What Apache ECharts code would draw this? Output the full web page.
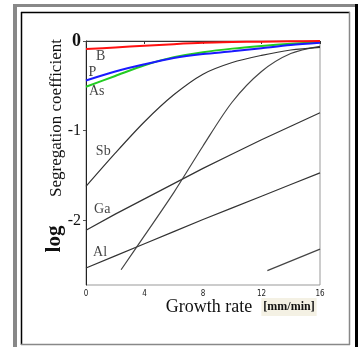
<!DOCTYPE html>
<html>
<head>
<meta charset="utf-8">
<script src="https://cdn.jsdelivr.net/npm/echarts@6/dist/echarts.min.js"></script>
<style>
  html, body {margin: 0; padding: 0; background: #fff;}
  #chart {width: 364px; height: 347px;}
</style>
</head>
<body>
<div id="chart"></div>
<script>
// growth rate [mm/min] and log segregation coefficient
const growthRate = [0, 2, 4, 6, 8, 10, 12, 14, 16];
const boronB = [-0.09, -0.072, -0.053, -0.035, -0.02, -0.012, -0.007, -0.003, 0];
const phosphorusP = [-0.44, -0.34, -0.26, -0.19, -0.145, -0.115, -0.08, -0.045, -0.02];
const arsenicAs = [-0.51, -0.39, -0.27, -0.18, -0.125, -0.085, -0.055, -0.03, -0.01];
const antimonySb = [-1.62, -1.25, -0.9, -0.6, -0.37, -0.24, -0.16, -0.1, -0.07];
const galliumGa = [-2.11, -1.93, -1.76, -1.59, -1.42, -1.26, -1.1, -0.95, -0.8];
const aluminiumAl = [-2.53, -2.395, -2.26, -2.125, -1.99, -1.86, -1.73, -1.6, -1.47];
// unlabeled steep curve and the short line bottom right
const steepX = [2.4, 4, 6, 8, 10, 12, 14, 16];
const steepY = [-2.55, -2.17, -1.69, -1.17, -0.68, -0.34, -0.14, -0.06];
const shortX = [12.4, 16];
const shortY = [-2.56, -2.32];

const xTicks = [0, 4, 8, 12, 16];
const yTicks = [0, -1, -2];

// curve labels: text and anchor point in data units
const labelNames = ['B', 'P', 'As', 'Sb', 'Ga', 'Al'];
const labelX = [1.01, 0.43, 0.73, 1.18, 1.11, 0.96];
const labelY = [-0.17, -0.35, -0.56, -1.23, -1.88, -2.36];

const pairs = (xs, ys) => xs.map((x, i) => [x, ys[i]]);
const serif = '"Liberation Serif", "DejaVu Serif", serif';

const myChart = echarts.init(document.getElementById('chart'));

const curve = (name, xs, ys, color, width, smooth) => ({
    name: name,
    type: 'line',
    data: pairs(xs, ys),
    showSymbol: false,
    smooth: smooth,
    lineStyle: {color: color, width: width},
    silent: true,
    z: 3
});

myChart.setOption({
    animation: false,
    grid: {left: 86, top: 41, right: 44, bottom: 62, show: true, borderColor: '#999', borderWidth: 1},
    xAxis: {
        type: 'value',
        min: 0,
        max: 16,
        interval: 4,
        splitLine: {show: false},
        axisLine: {lineStyle: {color: '#333', width: 1}},
        axisTick: {length: 3, lineStyle: {color: '#333'}, customValues: xTicks},
        axisLabel: {
            customValues: xTicks,
            margin: 5,
            fontSize: 8,
            color: '#222',
            fontFamily: '"Liberation Sans Narrow", "DejaVu Sans Condensed", sans-serif'
        }
    },
    yAxis: {
        type: 'value',
        min: -2.72,
        max: 0,
        splitLine: {show: false},
        axisLine: {lineStyle: {color: '#222', width: 1}},
        axisTick: {length: 3, lineStyle: {color: '#555'}, customValues: yTicks},
        axisLabel: {
            customValues: yTicks,
            margin: 5,
            color: '#111',
            fontFamily: serif,
            fontSize: 16,
            formatter(val) {
                return val === 0 ? '{z|0}' : String(val);
            },
            rich: {z: {fontSize: 18, fontWeight: 'bold', fontFamily: serif, color: '#111'}}
        }
    },
    series: [
        curve('Al', growthRate, aluminiumAl, '#333', 1.2, false),
        curve('Ga', growthRate, galliumGa, '#333', 1.2, false),
        curve('steep', steepX, steepY, '#444', 1.2, 0.3),
        curve('short', shortX, shortY, '#444', 1.2, false),
        curve('Sb', growthRate, antimonySb, '#333', 1.2, 0.3),
        curve('As', growthRate, arsenicAs, '#22cc22', 2, 0.3),
        curve('P', growthRate, phosphorusP, '#1a1aff', 2, 0.3),
        curve('B', growthRate, boronB, '#ff1010', 2, 0.3),
        {
            name: 'labels',
            type: 'scatter',
            symbolSize: 0,
            silent: true,
            data: labelNames.map((n, i) => ({value: [labelX[i], labelY[i]], name: n})),
            label: {
                show: true,
                position: 'inside',
                formatter: p => p.name,
                fontFamily: serif,
                fontSize: 14,
                color: '#111'
            }
        }
    ],
    graphic: [
        // decorative outer frame
        {type: 'rect', shape: {x: 13, y: 4, width: 4, height: 343}, style: {fill: '#888'}},
        {type: 'rect', shape: {x: 13, y: 4, width: 342, height: 3}, style: {fill: '#888'}},
        {type: 'rect', shape: {x: 355, y: 4, width: 3, height: 343}, style: {fill: '#000'}},
        {type: 'line', shape: {x1: 21.5, y1: 12, x2: 21.5, y2: 345}, style: {stroke: '#000', lineWidth: 1.5}},
        {type: 'line', shape: {x1: 21, y1: 12.5, x2: 350, y2: 12.5}, style: {stroke: '#000', lineWidth: 1.5}},
        {type: 'line', shape: {x1: 349.5, y1: 12, x2: 349.5, y2: 345}, style: {stroke: '#888', lineWidth: 1.5}},
        {type: 'line', shape: {x1: 21, y1: 344.5, x2: 350, y2: 344.5}, style: {stroke: '#888', lineWidth: 1.5}},
        // axis titles
        {
            type: 'text', x: 57, y: 118, rotation: Math.PI / 2,
            style: {text: 'Segregation coefficient', font: '17px ' + serif, fill: '#111', align: 'center', verticalAlign: 'middle'}
        },
        {
            type: 'text', x: 55, y: 239, rotation: Math.PI / 2,
            style: {text: 'log', font: 'bold 21px ' + serif, fill: '#111', align: 'center', verticalAlign: 'middle'}
        },
        {
            type: 'text', x: 209, y: 307,
            style: {text: 'Growth rate', font: '18px ' + serif, fill: '#111', align: 'center', verticalAlign: 'middle'}
        },
        {
            type: 'text', x: 289, y: 307,
            style: {
                text: '[mm/min]', font: 'bold 12px ' + serif, fill: '#111', align: 'center', verticalAlign: 'middle',
                backgroundColor: '#f4f1e4', padding: [3, 2, 3, 2]
            }
        }
    ]
});
</script>
</body>
</html>
